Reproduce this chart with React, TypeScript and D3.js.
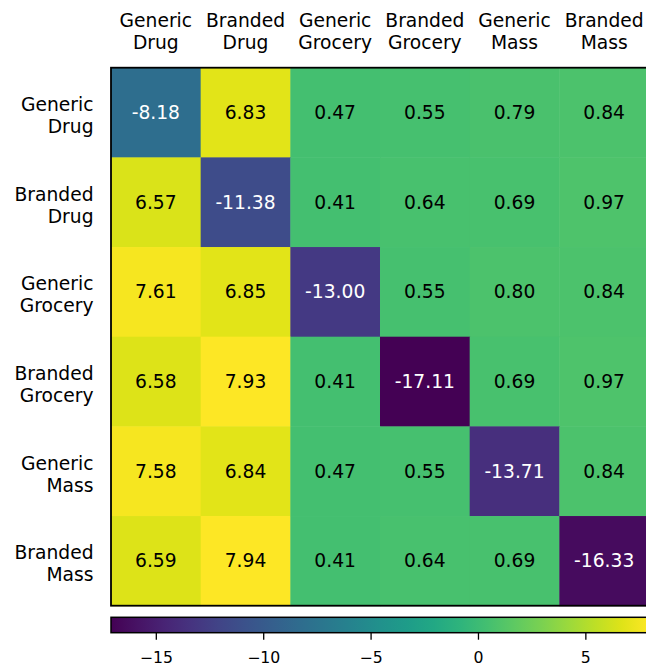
import React from "react";
import * as d3 from "d3";

const rowLabels = [
  ["Generic", "Drug"],
  ["Branded", "Drug"],
  ["Generic", "Grocery"],
  ["Branded", "Grocery"],
  ["Generic", "Mass"],
  ["Branded", "Mass"],
];
const colLabels = rowLabels;

const values: number[][] = [
  [-8.18, 6.83, 0.47, 0.55, 0.79, 0.84],
  [6.57, -11.38, 0.41, 0.64, 0.69, 0.97],
  [7.61, 6.85, -13.0, 0.55, 0.8, 0.84],
  [6.58, 7.93, 0.41, -17.11, 0.69, 0.97],
  [7.58, 6.84, 0.47, 0.55, -13.71, 0.84],
  [6.59, 7.94, 0.41, 0.64, 0.69, -16.33],
];

const colorbarTicks = [-15, -10, -5, 0, 5];

const W = 646;
const H = 666;
const left = 111;
const top = 67.7;
const size = 538;
const cbTop = 617.3;
const cbH = 15.4;
const FONT = "DejaVu Sans, sans-serif";

export default function App() {
  const flat = values.flat();
  const vmin = d3.min(flat) as number;
  const vmax = d3.max(flat) as number;
  const color = d3.scaleSequential(d3.interpolateViridis).domain([vmin, vmax]);
  const x = d3.scaleBand<number>().domain(d3.range(6)).range([left, left + size]);
  const y = d3.scaleBand<number>().domain(d3.range(6)).range([top, top + size]);
  const cbX = d3.scaleLinear().domain([vmin, vmax]).range([left, left + size]);
  const stops = d3.range(0, 1.0001, 0.05);
  const fmt = (v: number) => (v < 0 ? "-" : "") + Math.abs(v).toFixed(2);

  return (
    <svg
      width={W}
      height={H}
      style={{ position: "absolute", left: 0, top: 0, overflow: "hidden" }}
      fontFamily={FONT}
    >
      <defs>
        <linearGradient id="cb" x1="0" x2="1" y1="0" y2="0">
          {stops.map((t) => (
            <stop key={t} offset={t} stopColor={d3.interpolateViridis(t)} />
          ))}
        </linearGradient>
      </defs>
      <rect x={0} y={0} width={W} height={H} fill="white" />
      {values.map((row, i) =>
        row.map((v, j) => (
          <g key={`${i}-${j}`}>
            <rect
              x={x(j)}
              y={y(i)}
              width={x.bandwidth() + 0.5}
              height={y.bandwidth() + 0.5}
              fill={color(v)}
            />
            <text
              x={(x(j) as number) + x.bandwidth() / 2}
              y={(y(i) as number) + y.bandwidth() / 2}
              textAnchor="middle"
              dominantBaseline="central"
              fontSize={18.7}
              fill={v < -5 ? "white" : "black"}
            >
              {fmt(v)}
            </text>
          </g>
        ))
      )}
      <rect
        x={left}
        y={top}
        width={size}
        height={size}
        fill="none"
        stroke="black"
        strokeWidth={1.8}
      />
      {colLabels.map((lab, j) => (
        <text
          key={`c${j}`}
          x={(x(j) as number) + x.bandwidth() / 2}
          textAnchor="middle"
          fontSize={18.7}
          fill="black"
        >
          <tspan x={(x(j) as number) + x.bandwidth() / 2} y={26.5}>
            {lab[0]}
          </tspan>
          <tspan x={(x(j) as number) + x.bandwidth() / 2} y={48.5}>
            {lab[1]}
          </tspan>
        </text>
      ))}
      {rowLabels.map((lab, i) => {
        const cy = (y(i) as number) + y.bandwidth() / 2;
        return (
          <text key={`r${i}`} textAnchor="end" fontSize={18.7} fill="black">
            <tspan x={93.5} y={cy - 1.7}>
              {lab[0]}
            </tspan>
            <tspan x={93.5} y={cy + 20.3}>
              {lab[1]}
            </tspan>
          </text>
        );
      })}
      <rect x={left} y={cbTop} width={size} height={cbH} fill="url(#cb)" />
      <rect
        x={left}
        y={cbTop}
        width={size}
        height={cbH}
        fill="none"
        stroke="black"
        strokeWidth={1.5}
      />
      {colorbarTicks.map((t) => (
        <g key={t}>
          <line
            x1={cbX(t)}
            x2={cbX(t)}
            y1={cbTop + cbH}
            y2={cbTop + cbH + 7}
            stroke="black"
            strokeWidth={1.3}
          />
          <text
            x={cbX(t)}
            y={663}
            textAnchor="middle"
            fontSize={15.7}
            fill="black"
          >
            {t < 0 ? "\u2212" + Math.abs(t) : String(t)}
          </text>
        </g>
      ))}
    </svg>
  );
}
